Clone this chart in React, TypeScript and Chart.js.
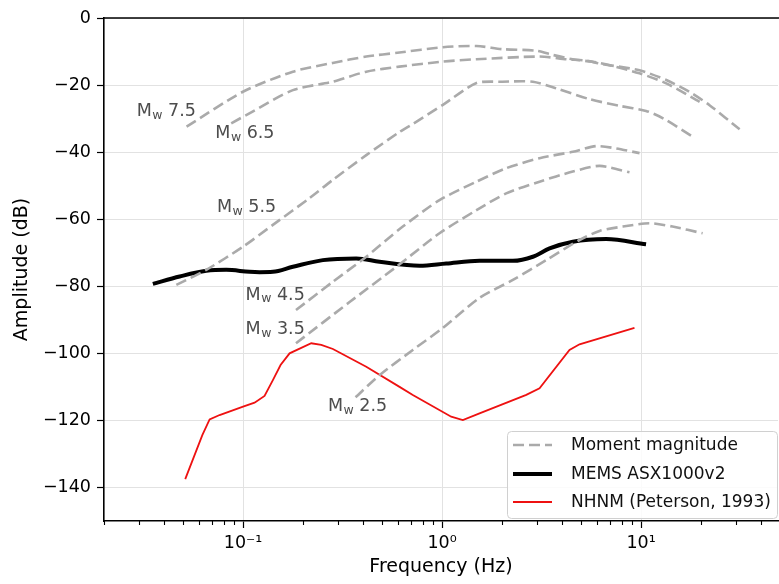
import React, { useEffect, useRef } from 'react';
import { Chart, registerables } from 'chart.js';

Chart.register(...registerables);

// ---- data (frequency Hz, amplitude dB) ----
const mw75: number[][] = [[0.052,-32.4],[0.0998,-22.0],[0.178,-16.0],[0.282,-13.4],[0.416,-11.5],[0.611,-10.3],[1.01,-8.7],[1.49,-8.35],[2.01,-9.3],[2.97,-9.75],[3.59,-11.0],[4.53,-12.3],[6.19,-13.4],[9.83,-16.5],[13.4,-19.5],[19.7,-25.0]];
const mw65: number[][] = [[0.0872,-31.4],[0.1116,-27.9],[0.178,-21.5],[0.282,-19.0],[0.416,-16.0],[0.611,-14.5],[1.01,-13.0],[1.49,-12.3],[3.09,-11.5],[4.21,-12.3],[5.30,-12.7],[6.19,-13.6],[9.83,-15.6],[13.4,-18.5],[17.5,-22.0],[22.1,-26.0],[31.3,-33.2]];
const mw55: number[][] = [[0.0462,-79.6],[0.0653,-75.1],[0.100,-68.2],[0.1412,-61.7],[0.216,-53.7],[0.282,-48.3],[0.416,-40.9],[0.611,-34.0],[0.713,-31.6],[1.01,-25.9],[1.49,-19.4],[2.01,-19.0],[2.86,-19.0],[3.75,-21.0],[5.51,-24.2],[7.80,-26.2],[10.6,-27.7],[12.9,-29.9],[18.2,-35.4]];
const mw45: number[][] = [[0.1845,-87.1],[0.282,-78.7],[0.416,-71.2],[0.635,-62.2],[0.971,-54.3],[1.49,-48.8],[2.10,-44.8],[3.09,-41.8],[4.54,-39.9],[5.96,-38.2],[7.50,-38.9],[9.83,-40.3]];
const mw35: number[][] = [[0.1845,-97.0],[0.343,-84.7],[0.589,-74.2],[0.971,-64.2],[1.49,-57.3],[2.10,-52.3],[3.09,-48.8],[4.54,-45.8],[6.19,-44.1],[8.75,-46.0]];
const mw25: number[][] = [[0.3675,-113.1],[0.485,-106.5],[0.713,-99.0],[1.01,-92.4],[1.54,-83.5],[2.27,-78.1],[3.34,-72.2],[4.91,-66.2],[6.19,-63.5],[8.10,-62.2],[11.0,-61.2],[14.4,-62.2],[20.4,-64.2]];
const mems: number[][] = [[0.0352,-79.3],[0.048,-77.1],[0.0653,-75.4],[0.0823,-75.1],[0.1078,-75.7],[0.121,-75.8],[0.1412,-75.7],[0.178,-74.2],[0.2518,-72.2],[0.3706,-71.7],[0.485,-72.7],[0.771,-73.9],[1.05,-73.2],[1.543,-72.4],[2.27,-72.4],[2.86,-71.2],[3.47,-68.7],[4.54,-66.7],[6.68,-65.9],[10.6,-67.5]];
const nhnm: number[][] = [[0.0512,-137.5],[0.0624,-124.4],[0.0679,-119.7],[0.0762,-118.4],[0.100,-115.9],[0.1142,-114.7],[0.1282,-112.7],[0.1412,-108.0],[0.1543,-103.5],[0.1713,-100.0],[0.2202,-97.0],[0.2472,-97.5],[0.2828,-98.7],[0.416,-104.0],[0.6115,-110.0],[0.713,-112.4],[1.112,-118.9],[1.272,-119.9],[1.543,-117.9],[2.65,-112.4],[3.09,-110.4],[4.37,-99.0],[4.91,-97.3],[9.27,-92.4]];

const mwSeries = [mw75, mw65, mw55, mw45, mw35, mw25];
const mwLabels = ['7.5', '6.5', '5.5', '4.5', '3.5', '2.5'];
const mwLabelFreq = [0.0292, 0.0725, 0.0739, 0.1029, 0.1029, 0.2668];
const mwLabelDb = [-28.0, -34.4, -56.6, -82.6, -93.0, -115.9];

const yTicks = [-140, -120, -100, -80, -60, -40, -20, 0];
const xMajor = [0.1, 1, 10];
const xMajorLabels = ['10\u207B\u00B9', '10\u2070', '10\u00B9'];
const legendLabels = ['Moment magnitude', 'MEMS ASX1000v2', 'NHNM (Peterson, 1993)'];

const X_MIN = 0.02;
const X_MAX = 48.8;
const FONT = '"DejaVu Sans", sans-serif';
const FS = 17.5;
const TITLE_FS = 19;
const LEGEND_FS = 17;
const GRAY = '#aaaaaa';

const toPts = (arr: number[][]) => arr.map(([x, y]) => ({ x, y }));

const overlay = {
  id: 'overlay',
  afterDatasetsDraw(chart: any) {
    const { ctx, chartArea, scales } = chart;
    const x = scales.x;
    const y = scales.y;
    ctx.save();
    // minor ticks on x
    ctx.strokeStyle = '#000';
    ctx.lineWidth = 1.1;
    for (const t of x.ticks) {
      if (t.major) continue;
      const px = Math.round(x.getPixelForValue(t.value)) + 0.5;
      ctx.beginPath();
      ctx.moveTo(px, chartArea.bottom);
      ctx.lineTo(px, chartArea.bottom + 4);
      ctx.stroke();
    }
    // top spine
    ctx.lineWidth = 1.6;
    ctx.beginPath();
    ctx.moveTo(chartArea.left, chartArea.top);
    ctx.lineTo(chartArea.right + 2, chartArea.top);
    ctx.stroke();

    // Mw labels
    ctx.fillStyle = '#4d4d4d';
    ctx.textBaseline = 'middle';
    ctx.textAlign = 'left';
    for (let i = 0; i < mwLabels.length; i++) {
      const px = x.getPixelForValue(mwLabelFreq[i]);
      const py = y.getPixelForValue(mwLabelDb[i]);
      ctx.font = `${FS}px ${FONT}`;
      ctx.fillText('M', px, py);
      const mW = ctx.measureText('M').width;
      ctx.font = `12.5px ${FONT}`;
      ctx.fillText('w', px + mW + 0.5, py + 4);
      const wW = ctx.measureText('w').width;
      ctx.font = `${FS}px ${FONT}`;
      ctx.fillText(' ' + mwLabels[i], px + mW + 0.5 + wW, py);
    }

    // legend
    const lx = 507, ly = 431, lw = 270, lh = 87;
    ctx.beginPath();
    if (ctx.roundRect) ctx.roundRect(lx + 0.5, ly + 0.5, lw, lh, 4);
    else ctx.rect(lx + 0.5, ly + 0.5, lw, lh);
    ctx.fillStyle = 'rgba(255,255,255,0.85)';
    ctx.fill();
    ctx.strokeStyle = '#d0d0d0';
    ctx.lineWidth = 1;
    ctx.stroke();
    const rows = [445, 474, 502];
    const styles = [
      { c: GRAY, w: 2.6, d: [11, 5] },
      { c: '#000000', w: 4, d: [] },
      { c: '#ee1111', w: 1.8, d: [] },
    ];
    for (let i = 0; i < 3; i++) {
      ctx.beginPath();
      ctx.strokeStyle = styles[i].c;
      ctx.lineWidth = styles[i].w;
      ctx.setLineDash(styles[i].d);
      ctx.moveTo(513, rows[i]);
      ctx.lineTo(552, rows[i]);
      ctx.stroke();
      ctx.setLineDash([]);
      ctx.fillStyle = '#111';
      ctx.font = `${LEGEND_FS}px ${FONT}`;
      ctx.fillText(legendLabels[i], 571, rows[i] + 1);
    }
    ctx.restore();
  },
};

export default function App() {
  const ref = useRef<HTMLCanvasElement>(null);
  useEffect(() => {
    if (!ref.current) return;
    const datasets: any[] = [];
    mwSeries.forEach((s, i) => {
      datasets.push({
        label: 'Mw ' + mwLabels[i],
        data: toPts(s),
        borderColor: GRAY,
        borderWidth: 2.6,
        borderDash: [11, 5],
        pointRadius: 0,
        tension: 0.25,
        fill: false,
      });
    });
    datasets.push({
      label: legendLabels[1],
      data: toPts(mems),
      borderColor: '#000000',
      borderWidth: 4,
      pointRadius: 0,
      cubicInterpolationMode: 'monotone',
      fill: false,
    });
    datasets.push({
      label: legendLabels[2],
      data: toPts(nhnm),
      borderColor: '#ee1111',
      borderWidth: 1.8,
      pointRadius: 0,
      tension: 0,
      fill: false,
    });

    const chart = new Chart(ref.current, {
      type: 'line',
      data: { datasets },
      plugins: [overlay],
      options: {
        animation: false,
        responsive: false,
        maintainAspectRatio: false,
        layout: { padding: { top: 18, right: 1, left: 0, bottom: 0 } },
        plugins: { legend: { display: false }, tooltip: { enabled: false } },
        scales: {
          x: {
            type: 'logarithmic',
            min: X_MIN,
            max: X_MAX,
            afterFit: (s: any) => { s.height = 63; },
            afterBuildTicks: (s: any) => {
              const t: any[] = [];
              for (const d of [0.01, 0.1, 1, 10]) {
                for (let m = 1; m <= 9; m++) {
                  const v = +(m * d).toPrecision(6);
                  if (v >= X_MIN - 1e-9 && v <= X_MAX) t.push({ value: v, major: m === 1 });
                }
              }
              s.ticks = t;
            },
            ticks: {
              autoSkip: false,
              maxRotation: 0,
              padding: 5,
              color: '#000',
              font: { family: FONT, size: FS },
              callback: (v: any) => {
                const i = xMajor.indexOf(Number(v));
                return i >= 0 ? xMajorLabels[i] : '';
              },
            },
            grid: {
              color: (c: any) => (c.tick && c.tick.major ? '#e2e2e2' : 'rgba(0,0,0,0)'),
              tickColor: (c: any) => (c.tick && c.tick.major ? '#000' : 'rgba(0,0,0,0)'),
              tickLength: 7,
              lineWidth: 1,
              tickWidth: 1.2,
            },
            border: { color: '#000', width: 1.6 },
            title: {
              display: true,
              text: 'Frequency (Hz)',
              color: '#000',
              font: { family: FONT, size: TITLE_FS },
              padding: { top: 0, bottom: 5.5 },
            },
          },
          y: {
            type: 'linear',
            min: -150,
            max: 0,
            afterFit: (s: any) => { s.width = 104; },
            afterBuildTicks: (s: any) => {
              s.ticks = yTicks.map((v) => ({ value: v }));
            },
            ticks: {
              padding: 6,
              color: '#000',
              font: { family: FONT, size: FS },
              callback: (v: any) => (Number(v) < 0 ? '\u2212' + Math.abs(Number(v)) : String(v)),
            },
            grid: {
              color: '#e2e2e2',
              tickColor: '#000',
              tickLength: 7,
              lineWidth: 1,
              tickWidth: 1.2,
            },
            border: { color: '#000', width: 1.6 },
            title: {
              display: true,
              text: 'Amplitude (dB)',
              color: '#000',
              font: { family: FONT, size: TITLE_FS },
              padding: { top: 10.5, bottom: 0 },
            },
          },
        },
      } as any,
    });
    return () => chart.destroy();
  }, []);

  return (
    <div style={{ position: 'absolute', left: 0, top: 0, width: 779, height: 584, background: '#fff' }}>
      <canvas ref={ref} width={779} height={584} style={{ display: 'block' }} />
    </div>
  );
}
